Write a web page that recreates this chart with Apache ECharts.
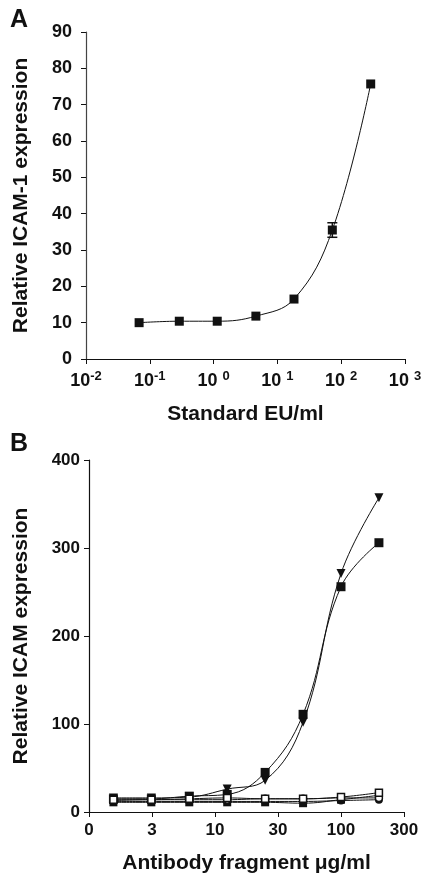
<!DOCTYPE html>
<html>
<head>
<meta charset="utf-8">
<script src="https://cdn.jsdelivr.net/npm/echarts@6/dist/echarts.min.js"></script>
<style>
html, body { margin: 0; padding: 0; background: #fff; }
#myChart { width: 428px; height: 875px; }
</style>
</head>
<body>
<div id="myChart"></div>
<script>
// panel A: standard curve
const doseA = [0.068, 0.29, 1.14, 4.6, 18.2, 72.6, 290]
const icamA = [10.0, 10.4, 10.4, 11.8, 16.5, 35.5, 75.7]
const errA = [0, 0, 0, 0, 0, 2.0, 0]
const xLabelsA = ['10{s|-2}', '10{s|-1}', '10 {s|0}', '10 {s|1}', '10 {s|2}', '10 {s|3}']

// panel B: antibody fragments (2-fold dilutions)
const doseB = [1.5625, 3.125, 6.25, 12.5, 25, 50, 100, 200]
const triB = [16, 16, 17, 26, 36, 102, 271, 357]
const sqB = [15, 15, 18, 20, 45, 111, 256, 306]
const openSqB = [14, 14, 15, 16, 15, 15, 17, 22]
const openCircB = [13, 14, 14, 14, 15, 15, 16, 16]
const circB = [12, 12, 12, 12, 12, 12, 13, 14]
const sq2B = [11, 11, 11, 11, 11, 10, 14, 19]
const xLabelsB = ['0', '3', '10', '30', '100', '300']

const font = "'Liberation Sans', Arial, sans-serif"
const ink = '#111'

function pairs(xs, ys) {
  return xs.map((x, i) => [x, ys[i]])
}

function axisBase(labelSize) {
  return {
    axisLine: { lineStyle: { color: ink, width: 1.2 } },
    axisTick: { show: true, length: 5, lineStyle: { color: ink, width: 1 } },
    splitLine: { show: false },
    axisLabel: { color: ink, fontFamily: font, fontWeight: 'bold', fontSize: labelSize },
    nameTextStyle: { color: ink, fontFamily: font, fontWeight: 'bold', fontSize: 21 },
    nameLocation: 'middle',
  }
}

function lineSeries(data, symbol, open, xi, extra) {
  return Object.assign({
    type: 'line',
    xAxisIndex: xi,
    yAxisIndex: xi,
    data: data,
    smooth: 0.4,
    symbol: symbol,
    symbolSize: 8,
    showSymbol: true,
    lineStyle: { color: ink, width: 1 },
    itemStyle: open
      ? { color: '#fff', borderColor: ink, borderWidth: 1.5 }
      : { color: ink, borderColor: ink, borderWidth: 0 },
    emphasis: { disabled: true },
    z: open ? 4 : 3,
  }, extra || {})
}

let myChart = echarts.init(document.getElementById('myChart'))

myChart.setOption({
  backgroundColor: '#fff',
  animation: false,
  graphic: [
    { type: 'text', left: 10, top: 8, style: { text: 'A', font: 'bold 25px ' + font, fill: ink } },
    { type: 'text', left: 10, top: 432, style: { text: 'B', font: 'bold 25px ' + font, fill: ink } },
  ],
  grid: [
    { left: 86, top: 32, right: 23, bottom: 516 },
    { left: 89, top: 460, right: 24, bottom: 62 },
  ],
  xAxis: [
    Object.assign(axisBase(18), {
      gridIndex: 0,
      type: 'log',
      logBase: 10,
      min: 0.01,
      max: 1000,
      splitNumber: 5,
      name: 'Standard EU/ml',
      nameGap: 45,
      axisLabel: Object.assign(axisBase(18).axisLabel, {
        margin: 11,
        formatter: (v) => xLabelsA[Math.round(Math.log10(v)) + 2],
        rich: {
          s: { fontFamily: font, fontWeight: 'bold', fontSize: 13, color: ink, verticalAlign: 'top', padding: [0, 0, 9, 0] },
        },
      }),
    }),
    Object.assign(axisBase(17), {
      gridIndex: 1,
      type: 'log',
      logBase: Math.sqrt(10),
      min: 1,
      max: Math.pow(10, 2.5),
      splitNumber: 5,
      name: 'Antibody fragment μg/ml',
      nameGap: 41,
      axisLabel: Object.assign(axisBase(17).axisLabel, {
        margin: 10,
        formatter: (v) => xLabelsB[Math.round(Math.log10(v) * 2)],
      }),
    }),
  ],
  yAxis: [
    Object.assign(axisBase(18), {
      gridIndex: 0,
      type: 'value',
      min: 0,
      max: 90,
      interval: 10,
      name: 'Relative ICAM-1 expression',
      nameGap: 54,
      axisLine: { show: true, lineStyle: { color: '#444', width: 1.2 } },
      axisLabel: Object.assign(axisBase(18).axisLabel, { margin: 14 }),
    }),
    Object.assign(axisBase(17), {
      gridIndex: 1,
      type: 'value',
      min: 0,
      max: 400,
      interval: 100,
      name: 'Relative ICAM expression',
      nameGap: 57,
      axisLine: { show: true, lineStyle: { color: ink, width: 1.2 } },
      axisLabel: Object.assign(axisBase(17).axisLabel, { margin: 9 }),
    }),
  ],
  series: [
    lineSeries(pairs(doseA, icamA), 'rect', false, 0, { symbolSize: 9 }),
    {
      type: 'custom',
      xAxisIndex: 0,
      yAxisIndex: 0,
      z: 5,
      data: doseA.map((d, i) => [d, icamA[i] - errA[i], icamA[i] + errA[i]]).filter((e) => e[2] > e[1]),
      renderItem(params, api) {
        const lo = api.coord([api.value(0), api.value(1)])
        const hi = api.coord([api.value(0), api.value(2)])
        const w = 5
        const st = { stroke: ink, lineWidth: 1.5 }
        return {
          type: 'group',
          children: [
            { type: 'line', shape: { x1: lo[0], y1: lo[1], x2: hi[0], y2: hi[1] }, style: st },
            { type: 'line', shape: { x1: lo[0] - w, y1: lo[1], x2: lo[0] + w, y2: lo[1] }, style: st },
            { type: 'line', shape: { x1: hi[0] - w, y1: hi[1], x2: hi[0] + w, y2: hi[1] }, style: st },
          ],
        }
      },
    },
    lineSeries(pairs(doseB, triB), 'triangle', false, 1, { symbolRotate: 180, symbolSize: 9 }),
    lineSeries(pairs(doseB, sqB), 'rect', false, 1, { symbolSize: 9 }),
    lineSeries(pairs(doseB, sq2B), 'rect', false, 1),
    lineSeries(pairs(doseB, circB), 'circle', false, 1),
    lineSeries(pairs(doseB, openCircB), 'circle', true, 1, { symbolSize: 7 }),
    lineSeries(pairs(doseB, openSqB), 'rect', true, 1, { symbolSize: 7 }),
  ],
})
</script>
</body>
</html>
